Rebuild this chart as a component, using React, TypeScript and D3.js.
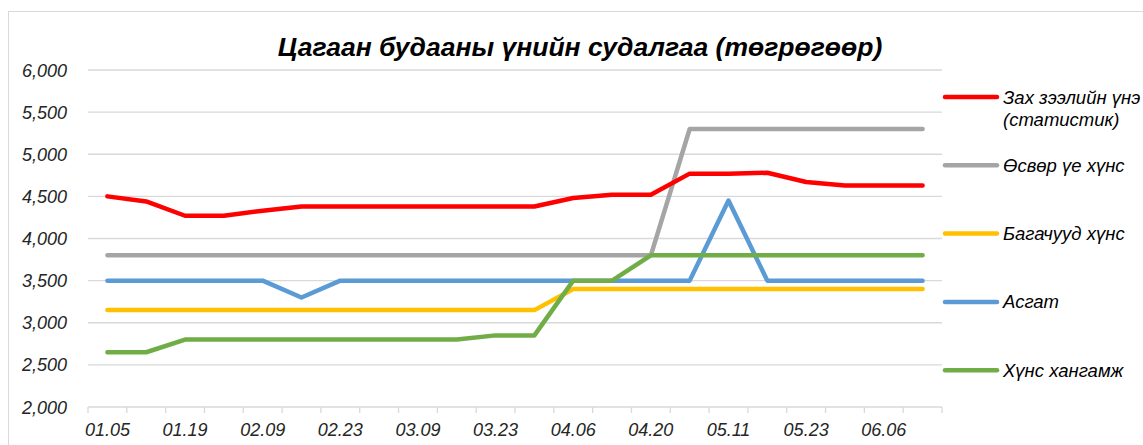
import * as d3 from "d3";

const categories = [
  "01.05", "01.12", "01.19", "01.26", "02.09", "02.16", "02.23", "03.02", "03.09", "03.16", "03.23",
  "03.30", "04.06", "04.13", "04.20", "04.27", "05.11", "05.17", "05.23", "05.30", "06.06", "06.13"
];
const shownLabels = ["01.05", "01.19", "02.09", "02.23", "03.09", "03.23", "04.06", "04.20", "05.11", "05.23", "06.06"];

const marketPrice = [4500, 4440, 4270, 4270, 4330, 4380, 4380, 4380, 4380, 4380, 4380, 4380, 4480, 4520, 4520, 4770, 4770, 4780, 4670, 4630, 4630, 4630];
const youthFood = [3800, 3800, 3800, 3800, 3800, 3800, 3800, 3800, 3800, 3800, 3800, 3800, 3800, 3800, 3800, 5300, 5300, 5300, 5300, 5300, 5300, 5300];
const baganuurFood = [3150, 3150, 3150, 3150, 3150, 3150, 3150, 3150, 3150, 3150, 3150, 3150, 3400, 3400, 3400, 3400, 3400, 3400, 3400, 3400, 3400, 3400];
const asgat = [3500, 3500, 3500, 3500, 3500, 3300, 3500, 3500, 3500, 3500, 3500, 3500, 3500, 3500, 3500, 3500, 4450, 3500, 3500, 3500, 3500, 3500];
const foodSupply = [2650, 2650, 2800, 2800, 2800, 2800, 2800, 2800, 2800, 2800, 2850, 2850, 3500, 3500, 3800, 3800, 3800, 3800, 3800, 3800, 3800, 3800];

const yTicks = [2000, 2500, 3000, 3500, 4000, 4500, 5000, 5500, 6000];

type Series = { name: string[]; color: string; values: number[] };

const series: Series[] = [
  { name: ["Зах зээлийн үнэ", "(статистик)"], color: "#ff0000", values: marketPrice },
  { name: ["Өсвөр үе хүнс"], color: "#a5a5a5", values: youthFood },
  { name: ["Багачууд хүнс"], color: "#ffc000", values: baganuurFood },
  { name: ["Асгат"], color: "#5b9bd5", values: asgat },
  { name: ["Хүнс хангамж"], color: "#70ad47", values: foodSupply }
];

// draw order: Excel puts the first series at the bottom
const drawOrder = [1, 2, 3, 4, 0];

export default function App() {
  const width = 1143;
  const height = 445;
  const plot = { left: 88, right: 942, top: 70, bottom: 407 };
  const font = "'Liberation Sans', Arial, sans-serif";

  const x = d3.scaleBand(categories, [plot.left, plot.right]);
  const y = d3.scaleLinear([2000, 6000], [plot.bottom, plot.top]);
  const line = d3
    .line<number>()
    .x((_, i) => (x(categories[i]) ?? 0) + x.bandwidth() / 2)
    .y((v) => y(v));

  const boundaries = categories.map((c) => x(c) ?? 0).concat(plot.right);
  const legendTop = 97;
  const legendStep = 68.3;

  return (
    <svg
      width={width}
      height={height}
      style={{ position: "absolute", left: 0, top: 0, background: "#fff" }}
      fontFamily={font}
    >
      <rect x={8.5} y={11.5} width={1150} height={450} fill="#fff" stroke="#d9d9d9" />
      <text x={580} y={56} textAnchor="middle" fontSize={26.5} fontWeight="bold" fontStyle="italic" fill="#000">
        Цагаан будааны үнийн судалгаа (төгрөгөөр)
      </text>

      {yTicks.map((t) => (
        <g key={t}>
          <line x1={plot.left} x2={plot.right} y1={y(t)} y2={y(t)} stroke="#d9d9d9" strokeWidth={1.3} />
          <text x={67} y={y(t) + 6.5} textAnchor="end" fontSize={18} fontStyle="italic" fill="#262626">
            {d3.format(",")(t)}
          </text>
        </g>
      ))}

      {boundaries.map((b, i) => (
        <line key={i} x1={b} x2={b} y1={plot.bottom} y2={plot.bottom + 6} stroke="#d9d9d9" strokeWidth={1.3} />
      ))}

      {shownLabels.map((c) => (
        <text
          key={c}
          x={(x(c) ?? 0) + x.bandwidth() / 2}
          y={436}
          textAnchor="middle"
          fontSize={18}
          fontStyle="italic"
          fill="#262626"
        >
          {c}
        </text>
      ))}

      {drawOrder.map((i) => (
        <path
          key={i}
          d={line(series[i].values) ?? undefined}
          fill="none"
          stroke={series[i].color}
          strokeWidth={4.5}
          strokeLinejoin="round"
          strokeLinecap="round"
        />
      ))}

      {series.map((s, i) => {
        const ly = legendTop + i * legendStep;
        return (
          <g key={s.name[0]}>
            <line x1={945} x2={997} y1={ly} y2={ly} stroke={s.color} strokeWidth={4.5} strokeLinecap="round" />
            {s.name.map((n, j) => (
              <text key={n} x={1003} y={ly + 6.5 + j * 22} fontSize={18.5} fontStyle="italic" fill="#000">
                {n}
              </text>
            ))}
          </g>
        );
      })}
    </svg>
  );
}
